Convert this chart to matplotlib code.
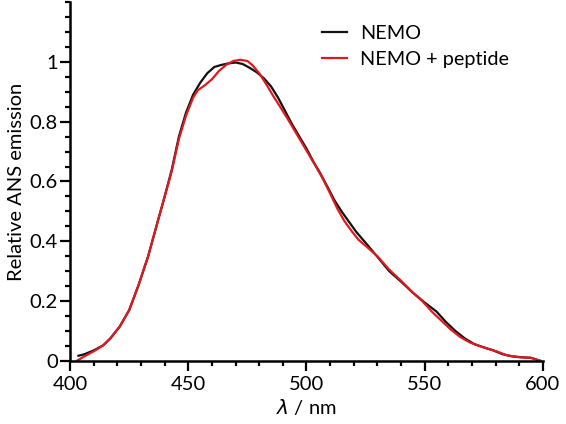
import matplotlib
matplotlib.use("Agg")
import matplotlib.pyplot as plt
from matplotlib.ticker import MultipleLocator

plt.rcParams['font.family'] = ['Lato', 'DejaVu Sans']

# NEMO (black)
nemo_x = [403.5, 406, 410, 414, 417, 421, 425, 429, 433, 437, 440, 443, 446, 449,
          452, 455, 458, 461, 464, 467, 470, 473, 476, 479, 482, 485, 488, 491, 494,
          497, 500, 503, 506, 509, 512, 515, 518, 521, 525, 530, 535, 540, 545, 550,
          555, 559, 563, 567, 571, 575, 579, 583, 587, 591, 595, 599]
nemo_y = [0.017, 0.022, 0.035, 0.052, 0.075, 0.115, 0.17, 0.255, 0.35, 0.465, 0.55,
          0.64, 0.75, 0.83, 0.89, 0.93, 0.962, 0.983, 0.99, 0.995, 0.998, 0.993, 0.98,
          0.965, 0.945, 0.918, 0.88, 0.835, 0.79, 0.75, 0.71, 0.665, 0.625, 0.58,
          0.535, 0.498, 0.465, 0.432, 0.395, 0.348, 0.3, 0.265, 0.228, 0.195, 0.165,
          0.13, 0.1, 0.075, 0.056, 0.045, 0.035, 0.022, 0.015, 0.012, 0.01, 0.0]

# NEMO + peptide (red)
pep_x = [402.8, 406, 410, 414, 417, 421, 425, 429, 433, 437, 440, 443, 446, 449,
         452, 454, 457, 460, 463, 466, 469, 472, 475, 477, 480, 483, 486, 489, 492,
         495, 498, 501, 504, 507, 510, 513, 516, 519, 522, 526, 530, 535, 540, 545,
         549, 553, 557, 561, 565, 569, 573, 577, 581, 585, 590, 595, 599]
pep_y = [0.0, 0.015, 0.032, 0.052, 0.075, 0.115, 0.17, 0.255, 0.35, 0.465, 0.55,
         0.635, 0.742, 0.82, 0.88, 0.905, 0.922, 0.942, 0.97, 0.99, 1.003, 1.007, 1.003,
         0.99, 0.962, 0.925, 0.885, 0.848, 0.81, 0.77, 0.73, 0.69, 0.65, 0.608, 0.56,
         0.51, 0.468, 0.435, 0.405, 0.378, 0.35, 0.305, 0.268, 0.228, 0.2, 0.165, 0.135,
         0.105, 0.08, 0.062, 0.05, 0.04, 0.03, 0.018, 0.012, 0.01, 0.0]

labels = ["NEMO", "NEMO + peptide"]
colors = ["#111111", "#e0191f"]

fig = plt.figure(figsize=(5.66, 4.24), dpi=100)
ax = fig.add_axes([0.124, 0.149, 0.835, 0.846])

ax.plot(nemo_x, nemo_y, color=colors[0], lw=1.6, label=labels[0])
ax.plot(pep_x, pep_y, color=colors[1], lw=1.6, label=labels[1])

ax.set_xlim(400, 600)
ax.set_ylim(0, 1.2)
ax.spines['top'].set_visible(False)
ax.spines['right'].set_visible(False)
for s in ['left', 'bottom']:
    ax.spines[s].set_linewidth(1.8)

ax.set_xticks([400, 450, 500, 550, 600])
ax.xaxis.set_minor_locator(MultipleLocator(10))
ax.set_yticks([0, 0.2, 0.4, 0.6, 0.8, 1.0])
ax.set_yticklabels(["0", "0.2", "0.4", "0.6", "0.8", "1"])
ax.yaxis.set_minor_locator(MultipleLocator(0.05))
ax.tick_params(which='major', length=7, width=1.6, labelsize=14.5, direction='out', pad=2)
ax.tick_params(axis='x', which='major', pad=4)
ax.tick_params(which='minor', length=3.6, width=1.6, direction='out')

ax.set_xlabel(r"$\lambda$ / nm", fontsize=14.5, labelpad=3)
ax.set_ylabel("Relative ANS emission", fontsize=14.5, labelpad=3)

ax.legend(frameon=False, loc='upper left', bbox_to_anchor=(0.533, 0.937),
          fontsize=14.3, handlelength=1.25, handletextpad=0.65, labelspacing=0.45,
          borderaxespad=0, borderpad=0)

fig.savefig("out.png", dpi=100)
